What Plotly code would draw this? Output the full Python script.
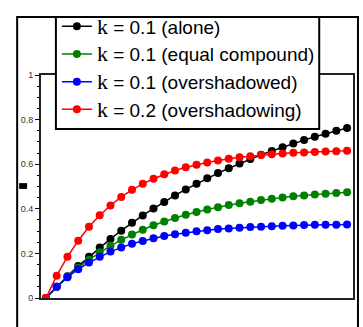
import plotly.graph_objects as go

trials = list(range(29))
alone = [0, 0.05, 0.098, 0.143, 0.185, 0.226, 0.265, 0.302, 0.337, 0.370, 0.401, 0.431, 0.460, 0.487, 0.512,
         0.537, 0.560, 0.582, 0.603, 0.623, 0.642, 0.659, 0.676, 0.693, 0.708, 0.723, 0.736, 0.750, 0.762]
equal_compound = [0, 0.05, 0.095, 0.136, 0.172, 0.205, 0.234, 0.261, 0.285, 0.306, 0.326, 0.343, 0.359, 0.373, 0.386,
                  0.397, 0.407, 0.417, 0.425, 0.432, 0.439, 0.445, 0.451, 0.456, 0.460, 0.464, 0.468, 0.471, 0.474]
overshadowed = [0, 0.05, 0.093, 0.129, 0.159, 0.185, 0.208, 0.226, 0.243, 0.256, 0.268, 0.278, 0.286, 0.293, 0.299,
                0.304, 0.309, 0.312, 0.315, 0.318, 0.320, 0.322, 0.324, 0.325, 0.327, 0.328, 0.328, 0.329, 0.330]
overshadowing = [0, 0.1, 0.185, 0.257, 0.319, 0.371, 0.415, 0.453, 0.485, 0.512, 0.535, 0.555, 0.572, 0.586, 0.598,
                 0.608, 0.617, 0.625, 0.631, 0.636, 0.641, 0.645, 0.648, 0.651, 0.653, 0.655, 0.657, 0.658, 0.660]

K = "<span style='font-family:\"Liberation Serif\",serif;font-size:22px'>k</span>"
series = [
    (K + " = 0.1 (alone)", alone, "black"),
    (K + " = 0.1 (equal compound)", equal_compound, "#008000"),
    (K + " = 0.1 (overshadowed)", overshadowed, "#0000ff"),
    (K + " = 0.2 (overshadowing)", overshadowing, "#ff0000"),
]

fig = go.Figure()
for name, vals, col in series:
    fig.add_trace(go.Scatter(x=trials, y=vals, name=name, mode="lines+markers",
                             line=dict(color=col, width=1.5),
                             marker=dict(color=col, size=8)))

L, R, T, B = 41, 8, 67, 29
W, H = 363, 327
pw, ph = W - L - R, H - T - B

def px(x):
    return (x - L) / pw

def py(y):
    return (H - B - y) / ph

fig.update_layout(
    width=W, height=H,
    margin=dict(l=L, r=R, t=T, b=B),
    paper_bgcolor="white", plot_bgcolor="white",
    font=dict(family="Liberation Sans, Arial, sans-serif", color="black"),
    showlegend=True,
    legend=dict(x=px(57), y=py(-3), xanchor="left", yanchor="top",
                bgcolor="rgba(0,0,0,0)", borderwidth=0,
                font=dict(size=19, family="Liberation Sans, Arial, sans-serif", color="black"),
                tracegroupgap=0),
    xaxis=dict(range=[-0.46, 28.55], showticklabels=False, ticks="", showgrid=False,
               zeroline=False, showline=True, linecolor="#222", linewidth=2, mirror=True),
    yaxis=dict(range=[0, 1], tickvals=[0, 0.2, 0.4, 0.6, 0.8, 1],
               ticktext=["0", "0.2", "0.4", "0.6", "0.8", "1"],
               ticks="outside", ticklen=4, tickcolor="black", tickwidth=1,
               minor=dict(dtick=0.05, ticks="outside", ticklen=2, tickcolor="black"),
               tickfont=dict(size=9, color="#333"), showgrid=False, zeroline=False,
               showline=True, linecolor="#222", linewidth=2, mirror=True),
    shapes=[
        dict(type="rect", xref="paper", yref="paper", x0=px(17), x1=px(360), y0=py(340), y1=py(7),
             line=dict(color="black", width=2), fillcolor="rgba(0,0,0,0)", layer="below"),
        dict(type="rect", xref="paper", yref="paper", x0=px(19), x1=px(27), y0=py(185), y1=py(179),
             line=dict(width=0), fillcolor="black"),
        dict(type="rect", xref="paper", yref="paper", x0=px(56), x1=px(321), y0=py(123), y1=py(7),
             line=dict(color="black", width=2), fillcolor="white", layer="above"),
    ],
)

fig.write_html("out.html", post_script="document.body.style.margin='0';",
               config={"displayModeBar": False})
